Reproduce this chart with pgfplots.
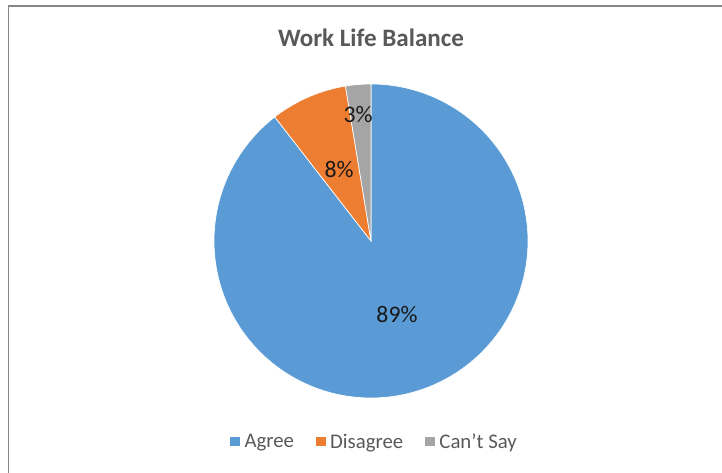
\documentclass[border=0pt]{standalone}
\usepackage{fontspec}
\setmainfont{Carlito}
\usepackage{pgfplots}
\usepackage{pgfplotstable}
\pgfplotsset{compat=1.18}
\definecolor{agree}{HTML}{5B9BD5}
\definecolor{disagree}{HTML}{ED7D31}
\definecolor{cantsay}{HTML}{A5A5A5}
\definecolor{txt}{HTML}{595959}
\definecolor{framec}{HTML}{868686}

\pgfplotstableread{
label value
Agree 89.5
Disagree 7.9
CantSay 2.6
}\piedata

\pgfplotstablegetelem{0}{value}\of\piedata \let\va\pgfplotsretval
\pgfplotstablegetelem{1}{value}\of\piedata \let\vb\pgfplotsretval
\pgfplotstablegetelem{2}{value}\of\piedata \let\vc\pgfplotsretval
\pgfmathsetmacro{\aA}{3.6*\va}
\pgfmathsetmacro{\aB}{3.6*(\va+\vb)}
\pgfmathsetmacro{\aC}{3.6*(\va+\vb+\vc)}
\def\cx{371}
\def\cy{241}
\def\rr{157}

\begin{document}
\begin{tikzpicture}
\begin{axis}[name=ax,
  width=541.5pt, height=354.75pt, scale only axis,
  xmin=0, xmax=722, ymin=0, ymax=473, y dir=reverse,
  hide axis, clip=false,
  legend columns=-1,
  legend style={at={(axis cs:375,442)}, anchor=center, draw=none, fill=none,
    font=\fontsize{15.6}{18}\selectfont, text=txt,
    /tikz/every even column/.append style={column sep=13pt},
    nodes={inner sep=2.8pt}},
  legend image code/.code={\fill[#1] (0pt,-3.4pt) rectangle (8pt,4.6pt);},
]
\addplot[fill=agree, draw=white, line width=0.5pt, domain=0:\aA, samples=240]
  ({\cx+\rr*sin(x)},{\cy-\rr*cos(x)}) -- (axis cs:\cx,\cy) -- cycle;
\addlegendentry{Agree}
\addplot[fill=disagree, draw=white, line width=0.5pt, domain=\aA:\aB, samples=40]
  ({\cx+\rr*sin(x)},{\cy-\rr*cos(x)}) -- (axis cs:\cx,\cy) -- cycle;
\addlegendentry{Disagree}
\addplot[fill=cantsay, draw=white, line width=0.5pt, domain=\aB:\aC, samples=20]
  ({\cx+\rr*sin(x)},{\cy-\rr*cos(x)}) -- (axis cs:\cx,\cy) -- cycle;
\addlegendentry{Can’t Say}

\node[font=\bfseries\fontsize{18.8}{22}\selectfont, text=txt, anchor=base]
  at (axis cs:371,46.7) {Work Life Balance};
\node[font=\fontsize{17.8}{20}\selectfont, text=black!90, anchor=base] at (axis cs:397,323) {89\%};
\node[font=\fontsize{17.8}{20}\selectfont, text=black!90, anchor=base] at (axis cs:339,177.7) {8\%};
\node[font=\fontsize{17.8}{20}\selectfont, text=black!90, anchor=base] at (axis cs:358,123) {3\%};

\draw[framec, line width=1pt] (axis cs:8.3,473) -- (axis cs:8.3,6) -- (axis cs:722,6);
\end{axis}
\pgfresetboundingbox
\path (ax.south west) rectangle (ax.north east);
\end{tikzpicture}
\end{document}
